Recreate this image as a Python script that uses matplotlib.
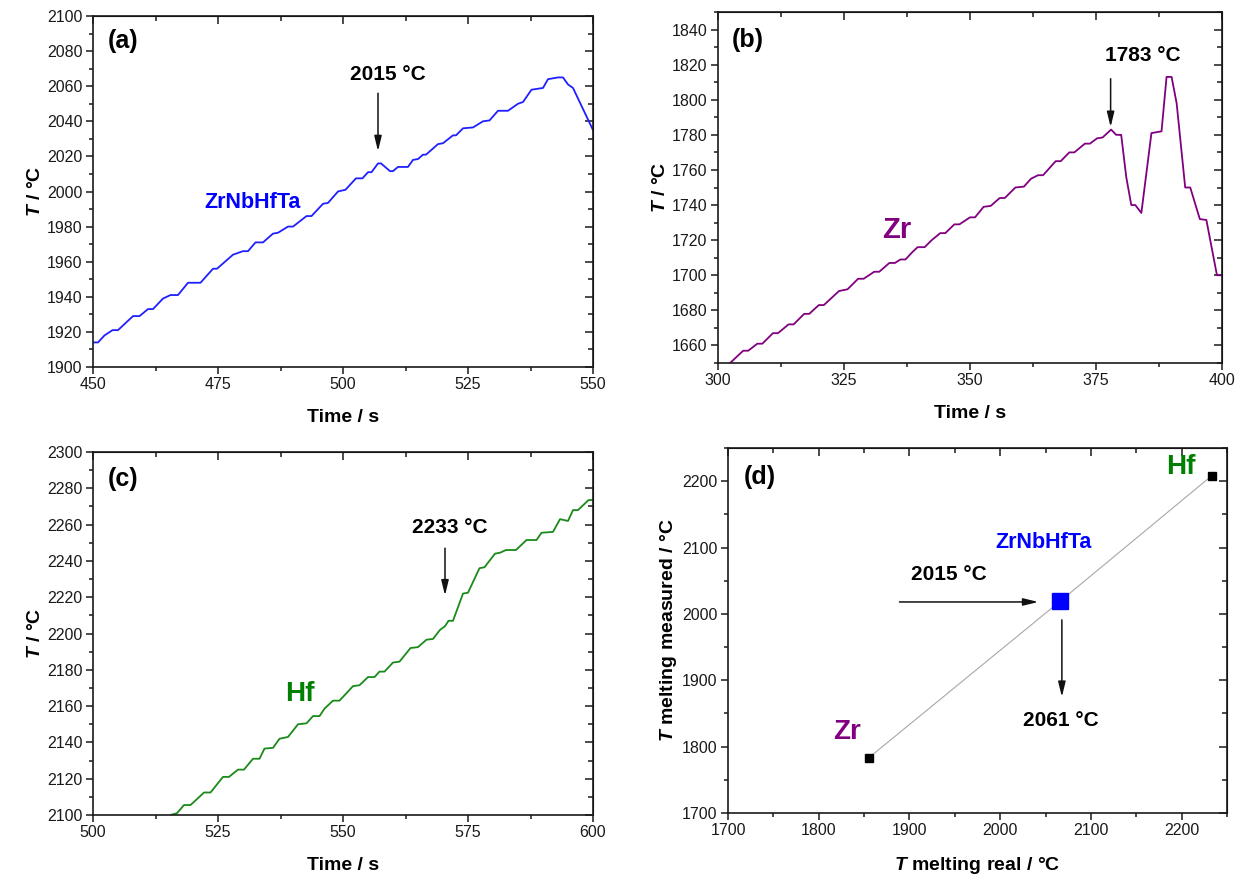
import matplotlib
matplotlib.use("Agg")
import matplotlib.pyplot as plt
from matplotlib.ticker import MultipleLocator

plt.rcParams['font.family'] = ['Liberation Sans', 'DejaVu Sans']
plt.rcParams['mathtext.fontset'] = 'custom'
plt.rcParams['mathtext.it'] = 'Liberation Sans:italic:bold'
plt.rcParams['mathtext.rm'] = 'Liberation Sans:bold'

# ---------------- data ----------------
a_time = [450.0, 451.0, 452.3, 453.9, 455.0, 458.0, 459.3, 461.0, 462.0, 464.0, 465.5, 467.0,
          469.0, 471.5, 474.0, 474.8, 478.0, 480.0, 481.0, 482.5, 484.0, 486.0, 487.0, 489.0,
          490.0, 492.7, 493.7, 496.0, 497.0, 499.0, 500.5, 502.6, 503.9, 505.0, 505.7, 507.0,
          507.6, 509.4, 510.0, 511.0, 513.0, 514.0, 515.0, 516.0, 516.6, 519.0, 520.0, 522.0,
          522.6, 524.0, 526.0, 528.0, 529.3, 531.0, 533.0, 535.0, 536.0, 537.7, 540.0, 541.0,
          543.0, 544.0, 545.0, 546.0, 547.0, 548.0, 549.0, 550.0]
a_temp = [1914, 1914, 1918, 1921, 1921, 1929, 1929, 1933, 1933, 1939, 1941, 1941,
          1948, 1948, 1956, 1956, 1964, 1966, 1966, 1971, 1971, 1976, 1976.5, 1980,
          1980, 1986, 1986, 1993, 1993.5, 2000, 2001, 2007.5, 2007.5, 2011, 2011, 2016,
          2016, 2011.6, 2011.6, 2014, 2014, 2018, 2018.5, 2021, 2021, 2027, 2027.5, 2032,
          2032, 2036, 2036.5, 2040, 2040.5, 2046, 2046, 2050, 2051, 2058, 2059, 2064,
          2065, 2065, 2061, 2059, 2053, 2047, 2041, 2035]

b_time = [302.4, 305.0, 306.0, 307.8, 308.8, 310.9, 311.9, 314.0, 315.0, 317.1, 318.1, 320.0,
          321.0, 324.0, 325.7, 327.8, 328.9, 331.0, 332.0, 334.0, 335.1, 336.2, 337.2, 338.5,
          339.6, 341.0, 342.4, 344.1, 345.1, 346.9, 347.9, 350.0, 351.0, 352.7, 354.1, 355.9,
          356.9, 359.0, 360.7, 362.1, 363.5, 364.5, 367.0, 368.0, 369.7, 370.7, 372.8, 373.8,
          375.2, 376.3, 378.0, 379.0, 380.0, 381.0, 382.0, 382.8, 384.0, 386.0, 388.0, 389.0,
          390.0, 391.0, 392.7, 393.7, 395.6, 396.9, 399.0, 400.0]
b_temp = [1650, 1657, 1657, 1661, 1661, 1667, 1667, 1672, 1672, 1678, 1678, 1683,
          1683, 1691, 1692, 1698, 1698, 1702, 1702, 1707, 1707, 1709, 1709, 1713,
          1716, 1716, 1720, 1724, 1724, 1729, 1729, 1733, 1733, 1739, 1739.5, 1744,
          1744, 1750, 1750.5, 1755, 1757, 1757, 1765, 1765, 1770, 1770, 1775, 1775,
          1778, 1778.5, 1783, 1780, 1780, 1756, 1740, 1740, 1735.5, 1781, 1782, 1813,
          1813, 1798, 1750, 1750, 1732, 1731.5, 1700, 1700]

c_time = [515.5, 516.8, 518.2, 519.5, 520.5, 522.2, 523.5, 526.0, 527.2, 529.0, 530.2, 532.0,
          533.3, 534.3, 536.0, 537.3, 539.0, 541.0, 542.7, 544.0, 545.3, 546.3, 548.0, 549.3,
          552.0, 553.3, 555.0, 556.3, 557.3, 558.3, 560.0, 561.3, 563.5, 565.0, 566.7, 568.0,
          569.4, 570.4, 571.1, 572.0, 574.0, 575.0, 577.3, 578.3, 580.4, 581.4, 582.6, 584.6,
          586.7, 588.7, 589.7, 592.0, 593.4, 595.0, 596.0, 597.0, 599.1, 600.0]
c_temp = [2100, 2101, 2105.5, 2105.5, 2108, 2112.4, 2112.4, 2121, 2121, 2125, 2125, 2131,
          2131, 2136.6, 2137, 2142, 2143, 2150, 2150.5, 2154.5, 2154.5, 2158.6, 2163, 2163,
          2171, 2171.5, 2176, 2176, 2179, 2179, 2184, 2184.5, 2192, 2192.5, 2196.6, 2197,
          2202, 2204, 2207, 2207, 2222, 2222.5, 2236, 2236.5, 2244, 2244.5, 2246, 2246,
          2251.5, 2251.5, 2255.5, 2256, 2263, 2262, 2268, 2268, 2273.5, 2273.5]

d_names = ['Zr', 'ZrNbHfTa', 'Hf']
d_real = [1855, 2066, 2233]
d_measured = [1783, 2019, 2208]

# ---------------- figure ----------------
W, H = 1246, 880
fig = plt.figure(figsize=(W / 100, H / 100), dpi=100)

def box(l, r, t, b):
    return [l / W, 1 - b / H, (r - l) / W, (b - t) / H]

ax_a = fig.add_axes(box(93, 593, 16, 367))
ax_b = fig.add_axes(box(718, 1222, 12, 363))
ax_c = fig.add_axes(box(93, 593, 452, 815))
ax_d = fig.add_axes(box(728, 1227, 448, 813))

TICK_FS = 11.5
LABEL_FS = 14
INK = '#1a1a1a'

def style(ax, xmaj, xmin, ymaj, ymin):
    ax.xaxis.set_major_locator(MultipleLocator(xmaj))
    ax.xaxis.set_minor_locator(MultipleLocator(xmin))
    ax.yaxis.set_major_locator(MultipleLocator(ymaj))
    ax.yaxis.set_minor_locator(MultipleLocator(ymin))
    for s in ax.spines.values():
        s.set_linewidth(1.2)
        s.set_color(INK)
    ax.tick_params(which='both', direction='out', top=False, right=False,
                   labelsize=TICK_FS, colors=INK, width=1.1, pad=2.5)
    ax.tick_params(which='major', length=5)
    ax.tick_params(which='minor', length=3)
    # mirrored inward ticks on top / right
    ax2 = ax.secondary_xaxis('top')
    ax2.xaxis.set_major_locator(MultipleLocator(xmaj))
    ax2.xaxis.set_minor_locator(MultipleLocator(xmin))
    ax2.tick_params(which='both', direction='in', labeltop=False, width=1.1, colors=INK)
    ax2.tick_params(which='major', length=6)
    ax2.tick_params(which='minor', length=3.5)
    ay2 = ax.secondary_yaxis('right')
    ay2.yaxis.set_major_locator(MultipleLocator(ymaj))
    ay2.yaxis.set_minor_locator(MultipleLocator(ymin))
    ay2.tick_params(which='both', direction='in', labelright=False, width=1.1, colors=INK)
    ay2.tick_params(which='major', length=6)
    ay2.tick_params(which='minor', length=3.5)

def labels(ax, xl, yl):
    ax.set_xlabel(xl, fontsize=LABEL_FS, fontweight='bold', labelpad=12)
    ax.set_ylabel(yl, fontsize=LABEL_FS, fontweight='bold', labelpad=2)

def arrow(ax, x0, y0, x1, y1):
    ax.annotate('', xy=(x1, y1), xytext=(x0, y0),
                arrowprops=dict(arrowstyle='-|>,head_length=0.9,head_width=0.22',
                                color='#111111', lw=1.1, shrinkA=0, shrinkB=0))

BOLD = dict(fontweight='bold')

# ---- (a) ----
ax = ax_a
ax.plot(a_time, a_temp, color='#1f1fff', lw=1.3)
ax.set_xlim(450, 550)
ax.set_ylim(1900, 2100)
style(ax, 25, 12.5, 20, 10)
labels(ax, 'Time / s', r'$T$ / °C')
ax.text(456, 2086, '(a)', fontsize=18, ha='center', va='center', **BOLD)
ax.text(509, 2066.5, '2015 °C', fontsize=15, ha='center', va='center', **BOLD)
arrow(ax, 507, 2056, 507, 2023)
ax.text(482, 1993.7, 'ZrNbHfTa', fontsize=15.5, color='#0000ff', ha='center', va='center', **BOLD)

# ---- (b) ----
ax = ax_b
ax.plot(b_time, b_temp, color='#800080', lw=1.3)
ax.set_xlim(300, 400)
ax.set_ylim(1650, 1850)
style(ax, 25, 12.5, 20, 10)
labels(ax, 'Time / s', r'$T$ / °C')
ax.text(306, 1834, '(b)', fontsize=18, ha='center', va='center', **BOLD)
ax.text(384.2, 1825.4, '1783 °C', fontsize=15, ha='center', va='center', **BOLD)
arrow(ax, 377.9, 1812, 377.9, 1784.5)
ax.text(335.4, 1726, 'Zr', fontsize=21, color='#800080', ha='center', va='center', **BOLD)

# ---- (c) ----
ax = ax_c
ax.plot(c_time, c_temp, color='#1a8a1a', lw=1.3)
ax.set_xlim(500, 600)
ax.set_ylim(2100, 2300)
style(ax, 25, 12.5, 20, 10)
labels(ax, 'Time / s', r'$T$ / °C')
ax.text(506, 2285, '(c)', fontsize=18, ha='center', va='center', **BOLD)
ax.text(571.4, 2258.5, '2233 °C', fontsize=15, ha='center', va='center', **BOLD)
arrow(ax, 570.4, 2247, 570.4, 2221)
ax.text(541.4, 2166.8, 'Hf', fontsize=20, color='#008000', ha='center', va='center', **BOLD)

# ---- (d) ----
ax = ax_d
ax.plot(d_real, d_measured, color='#a8a8a8', lw=0.8, zorder=1)
ax.plot([d_real[0], d_real[2]], [d_measured[0], d_measured[2]], ls='none',
        marker='s', ms=5.8, color='black', zorder=3)
ax.plot([d_real[1]], [d_measured[1]], ls='none', marker='s', ms=11,
        color='#0000ff', zorder=3)
ax.set_xlim(1700, 2250)
ax.set_ylim(1700, 2250)
style(ax, 100, 50, 100, 50)
labels(ax, r'$T$ melting real / °C', r'$T$ melting measured / °C')
ax.text(1735, 2206, '(d)', fontsize=18, ha='center', va='center', **BOLD)
ax.text(1831, 1822, d_names[0], fontsize=20, color='#800080', ha='center', va='center', **BOLD)
ax.text(2199, 2221, d_names[2], fontsize=20, color='#008000', ha='center', va='center', **BOLD)
ax.text(2048, 2108, d_names[1], fontsize=15.5, color='#0000ff', ha='center', va='center', **BOLD)
ax.text(1944, 2059, '2015 °C', fontsize=15, ha='center', va='center', **BOLD)
arrow(ax, 1889, 2018, 2042, 2018)
ax.text(2067, 1840, '2061 °C', fontsize=15, ha='center', va='center', **BOLD)
arrow(ax, 2068, 1991, 2068, 1875)

fig.savefig('out.png', dpi=100)
